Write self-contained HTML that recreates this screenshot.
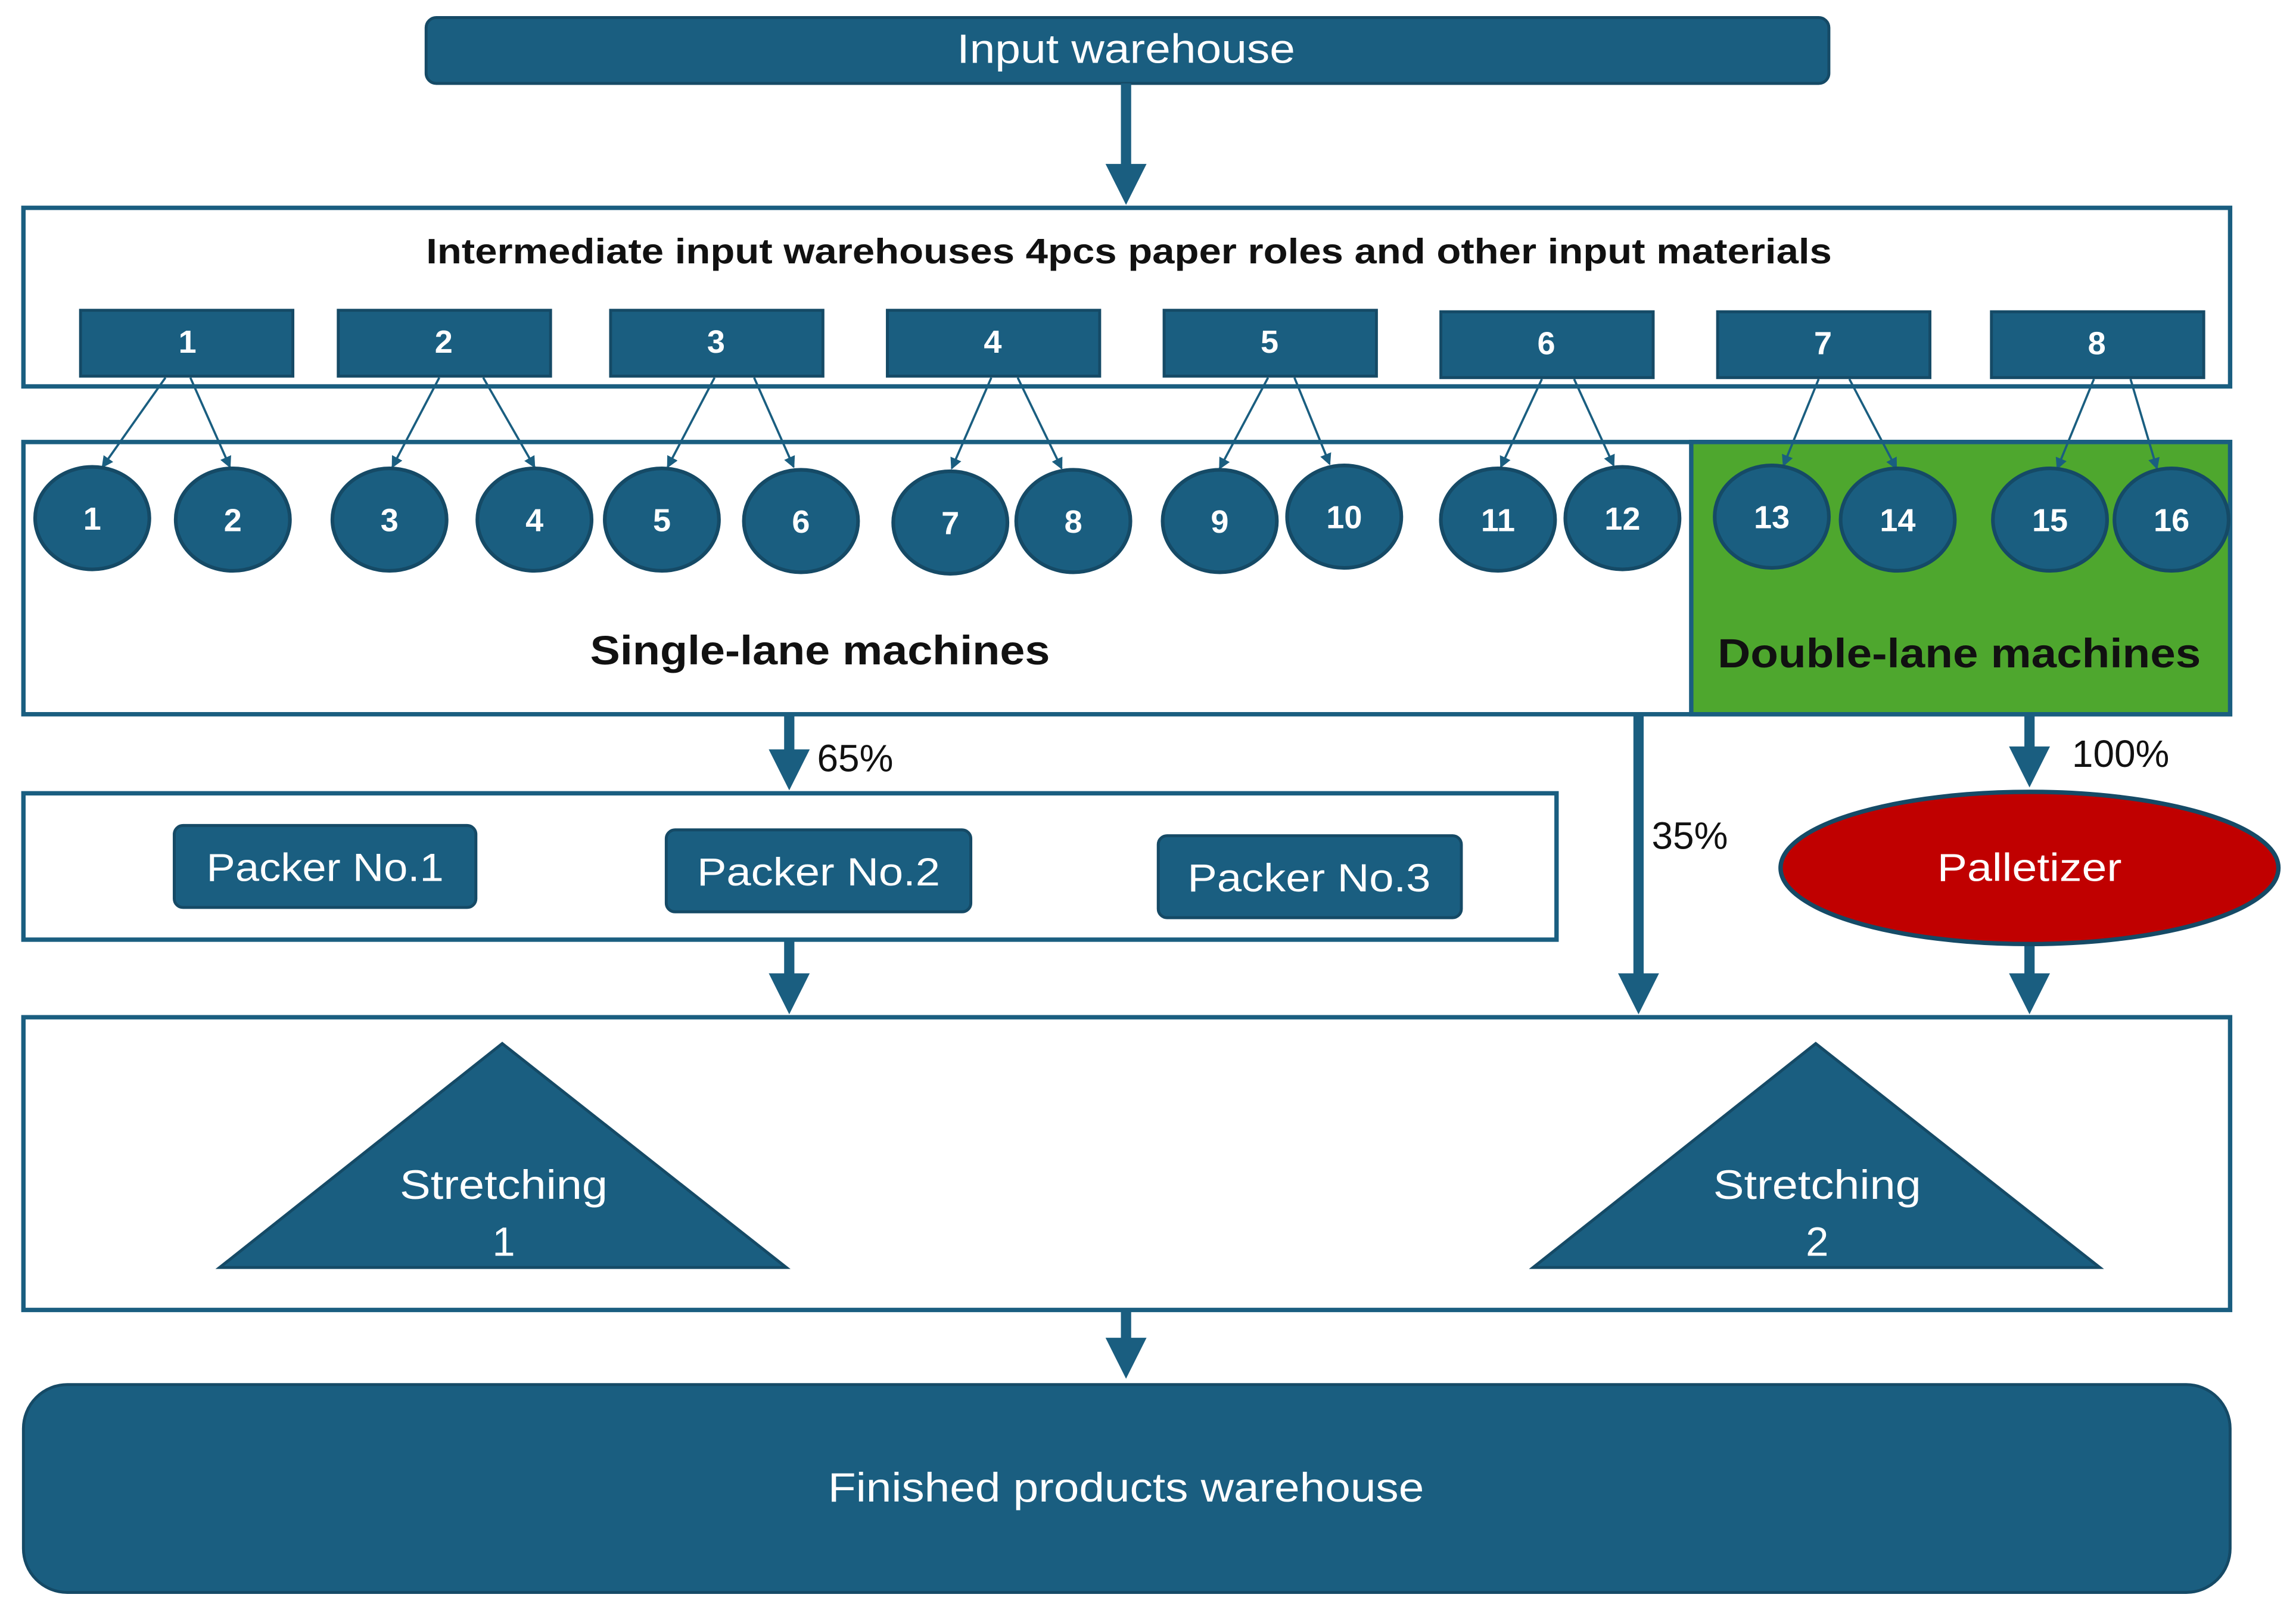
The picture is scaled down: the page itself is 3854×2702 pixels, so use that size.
<!DOCTYPE html>
<html><head><meta charset="utf-8"><style>
html,body{margin:0;padding:0;background:#fff;}
svg{display:block;}
text{font-family:"Liberation Sans",sans-serif;}
</style></head><body>
<svg width="3854" height="2702" viewBox="0 0 1568 1100" preserveAspectRatio="none" xmlns="http://www.w3.org/2000/svg">
<defs>
<marker id="big" markerWidth="4" markerHeight="4" refX="2" refY="2" orient="auto" markerUnits="strokeWidth">
<path d="M0,0 L4,2 L0,4 z" fill="#1a5e80"/></marker>
<marker id="sm" markerWidth="8" markerHeight="8" refX="7" refY="4" orient="auto" markerUnits="userSpaceOnUse">
<path d="M0,0 L8,4 L0,8 z" fill="#1a5e80"/></marker>
</defs>
<g fill="#1a5e80" stroke="#154a66" stroke-width="2">
<rect x="291" y="12" width="958" height="45" rx="7"/>
</g>
<text x="769" y="43" fill="#fff" font-size="28" text-anchor="middle" textLength="231" lengthAdjust="spacingAndGlyphs">Input warehouse</text>

<g stroke="#1a5e80" stroke-width="7" fill="none">
<line x1="769" y1="57" x2="769" y2="126" marker-end="url(#big)"/>
<line x1="539" y1="488" x2="539" y2="526" marker-end="url(#big)"/>
<line x1="1119" y1="488" x2="1119" y2="679" marker-end="url(#big)"/>
<line x1="1386" y1="488" x2="1386" y2="524" marker-end="url(#big)"/>
<line x1="539" y1="642" x2="539" y2="679" marker-end="url(#big)"/>
<line x1="1386" y1="646" x2="1386" y2="679" marker-end="url(#big)"/>
<line x1="769" y1="895" x2="769" y2="928" marker-end="url(#big)"/>
</g>

<rect x="16" y="142" width="1507" height="122" fill="#fff" stroke="#1a5e80" stroke-width="3"/>
<text x="771" y="180" font-size="24" font-weight="bold" text-anchor="middle" fill="#111" textLength="960" lengthAdjust="spacingAndGlyphs">Intermediate input warehouses 4pcs paper roles and other input materials</text>
<g fill="#1a5e80" stroke="#154a66" stroke-width="2">
<rect x="55" y="212" width="145" height="45"/><rect x="231" y="212" width="145" height="45"/>
<rect x="417" y="212" width="145" height="45"/><rect x="606" y="212" width="145" height="45"/>
<rect x="795" y="212" width="145" height="45"/><rect x="984" y="213" width="145" height="45"/>
<rect x="1173" y="213" width="145" height="45"/><rect x="1360" y="213" width="145" height="45"/>
</g>
<g fill="#fff" font-size="22" font-weight="bold" text-anchor="middle">
<text x="128" y="241">1</text><text x="303" y="241">2</text><text x="489" y="241">3</text><text x="678" y="241">4</text>
<text x="867" y="241">5</text><text x="1056" y="242">6</text><text x="1245" y="242">7</text><text x="1432" y="242">8</text>
</g>

<rect x="16" y="302" width="1507" height="186" fill="#fff" stroke="#1a5e80" stroke-width="3"/>
<rect x="1155" y="302" width="368" height="186" fill="#4ea72e" stroke="#1a5e80" stroke-width="3"/>

<g stroke="#1a5e80" stroke-width="1.5" marker-end="url(#sm)">
<line x1="113" y1="258" x2="70" y2="319"/><line x1="130" y1="258" x2="157" y2="319"/>
<line x1="300" y1="258" x2="268" y2="319"/><line x1="330" y1="258" x2="365" y2="319"/>
<line x1="488" y1="258" x2="456" y2="319"/><line x1="515" y1="258" x2="542" y2="319"/>
<line x1="677" y1="258" x2="650" y2="320"/><line x1="695" y1="258" x2="725" y2="320"/>
<line x1="866" y1="258" x2="833" y2="320"/><line x1="884" y1="258" x2="908" y2="317"/>
<line x1="1053" y1="259" x2="1025" y2="319"/><line x1="1075" y1="259" x2="1102" y2="318"/>
<line x1="1242" y1="259" x2="1218" y2="318"/><line x1="1263" y1="259" x2="1295" y2="320"/>
<line x1="1430" y1="259" x2="1405" y2="320"/><line x1="1455" y1="259" x2="1473" y2="320"/>
</g>

<g fill="#1a5e80" stroke="#154a66" stroke-width="2.5">
<ellipse cx="63" cy="354" rx="39" ry="35"/><ellipse cx="159" cy="355" rx="39" ry="35"/>
<ellipse cx="266" cy="355" rx="39" ry="35"/><ellipse cx="365" cy="355" rx="39" ry="35"/>
<ellipse cx="452" cy="355" rx="39" ry="35"/><ellipse cx="547" cy="356" rx="39" ry="35"/>
<ellipse cx="649" cy="357" rx="39" ry="35"/><ellipse cx="733" cy="356" rx="39" ry="35"/>
<ellipse cx="833" cy="356" rx="39" ry="35"/><ellipse cx="918" cy="353" rx="39" ry="35"/>
<ellipse cx="1023" cy="355" rx="39" ry="35"/><ellipse cx="1108" cy="354" rx="39" ry="35"/>
<ellipse cx="1210" cy="353" rx="39" ry="35"/><ellipse cx="1296" cy="355" rx="39" ry="35"/>
<ellipse cx="1400" cy="355" rx="39" ry="35"/><ellipse cx="1483" cy="355" rx="39" ry="35"/>
</g>
<g fill="#fff" font-size="22" font-weight="bold" text-anchor="middle">
<text x="63" y="362">1</text><text x="159" y="363">2</text><text x="266" y="363">3</text><text x="365" y="363">4</text>
<text x="452" y="363">5</text><text x="547" y="364">6</text><text x="649" y="365">7</text><text x="733" y="364">8</text>
<text x="833" y="364">9</text><text x="918" y="361">10</text><text x="1023" y="363">11</text><text x="1108" y="362">12</text>
<text x="1210" y="361">13</text><text x="1296" y="363">14</text><text x="1400" y="363">15</text><text x="1483" y="363">16</text>
</g>
<text x="560" y="454" font-size="28" font-weight="bold" text-anchor="middle" fill="#111" textLength="314" lengthAdjust="spacingAndGlyphs">Single-lane machines</text>
<text x="1338" y="456" font-size="28" font-weight="bold" text-anchor="middle" fill="#111" textLength="330" lengthAdjust="spacingAndGlyphs">Double-lane machines</text>

<g font-size="26" fill="#111">
<text x="558" y="527">65%</text><text x="1128" y="580">35%</text><text x="1415" y="524">100%</text>
</g>

<rect x="16" y="542" width="1047" height="100" fill="#fff" stroke="#1a5e80" stroke-width="3"/>
<g fill="#1a5e80" stroke="#154a66" stroke-width="2">
<rect x="119" y="564" width="206" height="56" rx="6"/>
<rect x="455" y="567" width="208" height="56" rx="6"/>
<rect x="791" y="571" width="207" height="56" rx="6"/>
</g>
<g fill="#fff" font-size="27" text-anchor="middle">
<text x="222" y="602" textLength="162" lengthAdjust="spacingAndGlyphs">Packer No.1</text><text x="559" y="605" textLength="166" lengthAdjust="spacingAndGlyphs">Packer No.2</text><text x="894" y="609" textLength="166" lengthAdjust="spacingAndGlyphs">Packer No.3</text>
</g>

<ellipse cx="1386" cy="593" rx="170" ry="52" fill="#c00000" stroke="#154a66" stroke-width="3"/>
<text x="1386" y="602" fill="#fff" font-size="27" text-anchor="middle" textLength="126" lengthAdjust="spacingAndGlyphs">Palletizer</text>

<rect x="16" y="695" width="1507" height="200" fill="#fff" stroke="#1a5e80" stroke-width="3"/>
<g fill="#1a5e80" stroke="#154a66" stroke-width="2">
<polygon points="150,866 343,713 537,866"/>
<polygon points="1047,866 1240,713 1434,866"/>
</g>
<g fill="#fff" font-size="28" text-anchor="middle">
<text x="344" y="819" textLength="142" lengthAdjust="spacingAndGlyphs">Stretching</text><text x="344" y="858">1</text>
<text x="1241" y="819" textLength="142" lengthAdjust="spacingAndGlyphs">Stretching</text><text x="1241" y="858">2</text>
</g>

<rect x="16" y="946" width="1507" height="142" rx="30" fill="#1a5e80" stroke="#154a66" stroke-width="2"/>
<text x="769" y="1026" fill="#fff" font-size="28" text-anchor="middle" textLength="407" lengthAdjust="spacingAndGlyphs">Finished products warehouse</text>
</svg>
</body></html>
